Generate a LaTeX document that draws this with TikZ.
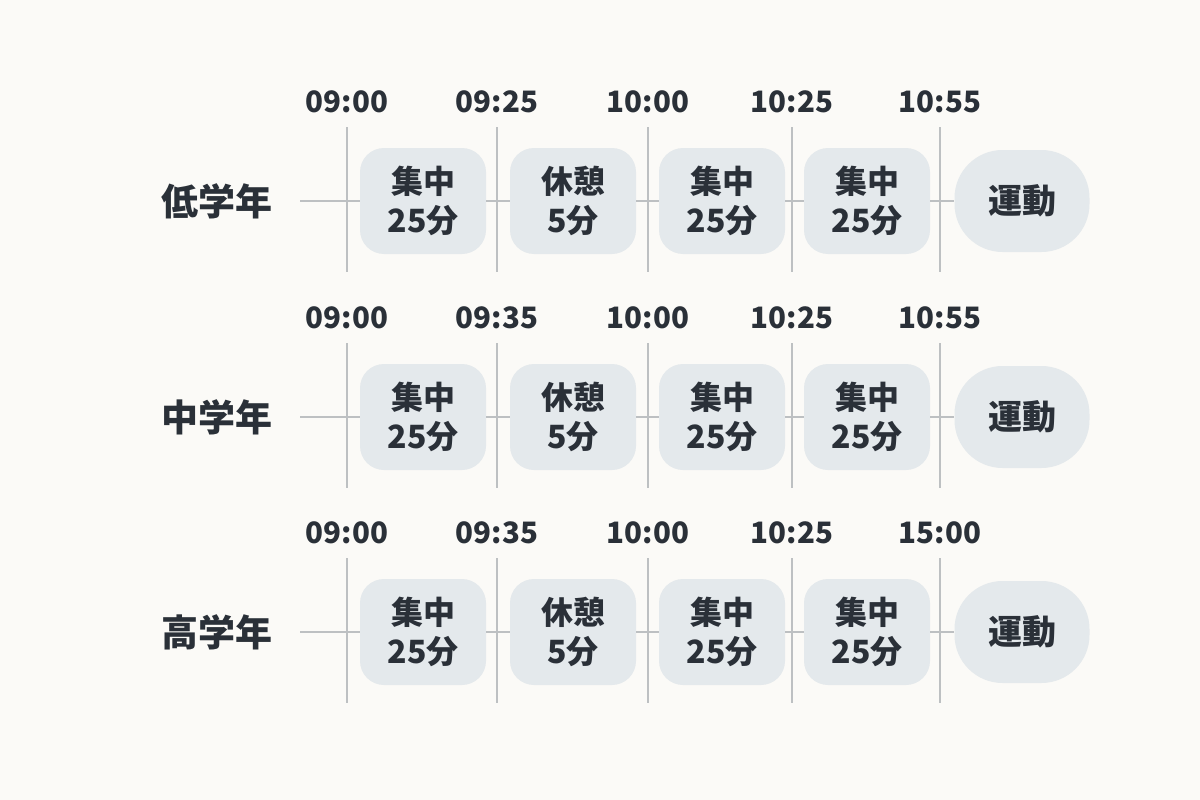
\documentclass[tikz,border=0pt]{standalone}
\usepackage{fontspec}
\setmainfont{Noto Sans CJK JP}
\definecolor{bgcol}{HTML}{FBFAF7}
\definecolor{boxfill}{HTML}{E4E9EC}
\definecolor{ink}{HTML}{2A3038}
\definecolor{rule}{HTML}{BDC0C2}
\begin{document}
\begin{tikzpicture}[x=1pt,y=-1pt,
  seg/.style={fill=boxfill, rounded corners=24pt, minimum width=126pt, minimum height=106pt,
    inner sep=0pt, align=center, text=ink, font=\fontsize{32}{39}\selectfont\bfseries},
  sport/.style={seg, minimum width=135pt, minimum height=102pt, rounded corners=48pt,
    font=\fontsize{34}{39}\selectfont\bfseries},
  rowlbl/.style={text=ink, inner sep=0pt, font=\fontsize{37}{40}\selectfont\bfseries},
  timelbl/.style={text=ink, inner sep=0pt, font=\fontsize{29.5}{30}\selectfont\bfseries},
  gridline/.style={draw=rule, line width=2pt}]
\fill[bgcol] (0,0) rectangle (1200,800);
\useasboundingbox (0,0) rectangle (1200,800);
\foreach \r/\y/\lab/\ta/\te in {1/201/低学年/09:25/10:55, 2/417/中学年/09:35/10:55, 3/632/高学年/09:35/15:00}{
  \node[rowlbl] (L\r) at (217,\y) {\lab};
  \coordinate (S\r) at (300,\y);
  \node[seg] (A\r) at (423,\y) {集中\\25分};
  \node[seg] (B\r) at (573,\y) {休憩\\5分};
  \node[seg] (C\r) at (722,\y) {集中\\25分};
  \node[seg] (D\r) at (867,\y) {集中\\25分};
  \node[sport] (E\r) at (1022,\y) {運動};
  \draw[gridline] (S\r) -- (A\r.west);
  \draw[gridline] (A\r.east) -- (B\r.west);
  \draw[gridline] (B\r.east) -- (C\r.west);
  \draw[gridline] (C\r.east) -- (D\r.west);
  \draw[gridline] (D\r.east) -- (E\r.west);
  \foreach \i/\x/\t in {1/347/09:00, 2/497/\ta, 3/648/10:00, 4/792/10:25, 5/940/\te}{
    \coordinate (U\r\i) at (\x,\y-74);
    \coordinate (W\r\i) at (\x,\y+71);
    \draw[gridline] (U\r\i) -- (W\r\i);
    \node[timelbl] (T\r\i) at (\x,\y-99) {\t};
  }
}
\end{tikzpicture}
\end{document}
